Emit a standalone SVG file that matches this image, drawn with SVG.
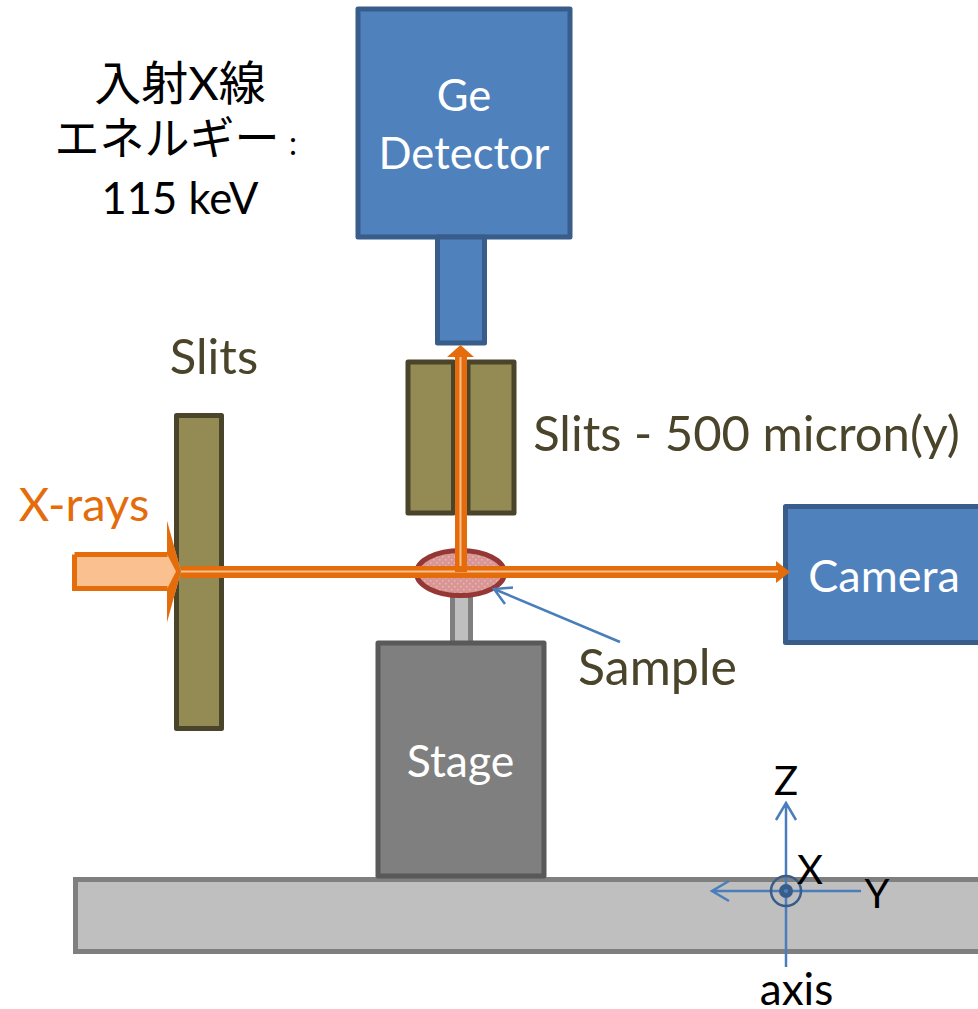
<svg xmlns="http://www.w3.org/2000/svg" width="978" height="1009" viewBox="0 0 978 1009">
<defs>
<style>
text{font-family:"Lato","Liberation Sans",sans-serif;font-size:47px;text-anchor:middle}
.w{fill:#fff}.o{fill:#4a452a}.k{fill:#000}
.blue{fill:#4f81bd;stroke:#385d8a;stroke-width:5;stroke-linejoin:round}
.slit{fill:#948a54;stroke:#4a452a;stroke-width:5;stroke-linejoin:round}
.grey{fill:#bfbfbf;stroke:#7f7f7f;stroke-width:5}
.ax{fill:none;stroke:#4a7ebb;stroke-width:2.5}
</style>
<pattern id="dots" width="6" height="6" patternUnits="userSpaceOnUse"><rect width="6" height="6" fill="#d99694"/><rect x="1" y="1" width="1.5" height="1.5" fill="#e6b9b8"/><rect x="4" y="4" width="1.5" height="1.5" fill="#e6b9b8"/></pattern>
</defs>
<g id="base"><rect class="grey" x="75.500" y="879.500" width="915" height="72"/></g>
<g id="post"><rect class="grey" x="452.500" y="595" width="18" height="50"/></g>
<g id="stage"><rect x="378" y="643" width="166" height="233" fill="#7f7f7f" stroke="#595959" stroke-width="5" stroke-linejoin="round"/><text class="w" x="460.500" y="777" style="font-size:44.500px">Stage</text></g>
<g id="detector"><rect class="blue" x="358" y="9" width="212" height="228"/><text class="w" x="464" y="111" style="font-size:43.500px">Ge</text><text class="w" x="464" y="169" style="font-size:43.500px">Detector</text></g>
<g id="detector-stem"><rect class="blue" x="437.500" y="237" width="47" height="106"/></g>
<g id="camera"><rect class="blue" x="785.500" y="506.500" width="210" height="136"/><text class="w" x="884" y="592" style="font-size:45px">Camera</text></g>
<g id="slits-left"><rect class="slit" x="176.500" y="415.500" width="45" height="313"/><text class="o" x="214" y="374" style="font-size:49px">Slits</text></g>
<g id="slits-right"><rect class="slit" x="408" y="362" width="45.500" height="151"/><rect class="slit" x="468" y="362" width="46" height="151"/><text class="o" x="746.500" y="451" style="font-size:49px">Slits - 500 micron(y)</text></g>
<g id="sample"><ellipse cx="460.500" cy="573" rx="44" ry="22.500" fill="url(#dots)" stroke="#953735" stroke-width="5"/><text class="o" x="657.500" y="685" style="font-size:50px">Sample</text></g>
<g id="connectors">
<path d="M74.500 554.500H167V521L181 571.500 167 622V588.500H74.500Z" fill="#fac08f" stroke="none"/>
<path d="M74.500 554.500H167.500M74.500 554.500V588.500H167.500" fill="none" stroke="#e46c0a" stroke-width="5"/>
<path d="M167 521L181 571.500 167 622V589L176 571.500 167 554Z" fill="#e46c0a"/>
<path d="M181 572H778" stroke="#e46c0a" stroke-width="12" fill="none"/>
<path d="M776 561L790 572 776 583Z" fill="#e46c0a"/>
<path d="M181 571.500H778" stroke="#fac08f" stroke-width="2" fill="none"/>
<path d="M461 572V355" stroke="#e46c0a" stroke-width="12" fill="none"/>
<path d="M447 357L460.500 345 474 357Z" fill="#e46c0a"/>
<path d="M460.500 566V357" stroke="#fac08f" stroke-width="2" fill="none"/>
<path class="ax" d="M620 642L494 589M513 587.500L494 589 505 604"/>
<path class="ax" d="M786 967V803M776 820L786 803 796 820"/>
<path class="ax" d="M861 891H712M729 881L712 891 729 901"/>
<circle cx="786" cy="891" r="15" fill="none" stroke="#385d8a" stroke-width="2.500"/>
<circle cx="786" cy="891" r="7" fill="#385d8a"/>
<circle cx="786" cy="891" r="2" fill="#4f81bd"/>
</g>
<g id="labels">
<text x="84" y="521" style="font-size:47px;fill:#e46c0a">X-rays</text>
<text class="k" x="786" y="795" style="font-size:40px">Z</text>
<text class="k" x="810" y="884" style="font-size:40px">X</text>
<text class="k" x="877" y="908" style="font-size:40px">Y</text>
<text class="k" x="796.500" y="1005" style="font-size:44px">axis</text>
<text class="k" x="180" y="100" style="font-family:'Lato','Noto Sans CJK JP',sans-serif;font-size:47px">入射X線</text>
<text class="k" x="167" y="155" style="font-family:'Noto Sans CJK JP',sans-serif;font-size:45px">エネルギー</text>
<text class="k" x="293" y="155" style="font-size:32px">:</text>
<text class="k" x="180" y="214" style="font-size:43.500px">115 keV</text>
</g>
</svg>
